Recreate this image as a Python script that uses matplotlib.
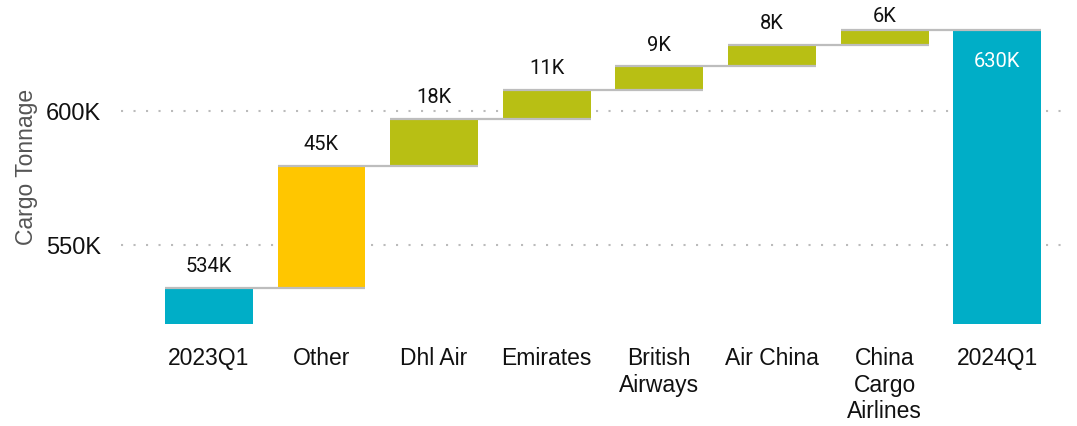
import numpy as np
import matplotlib
matplotlib.use('Agg')
import matplotlib.pyplot as plt

# data
categories = ['2023Q1', 'Other', 'Dhl Air', 'Emirates', 'British\nAirways',
              'Air China', 'China\nCargo\nAirlines', '2024Q1']
start_value = 534.0
deltas = [45.4, 17.6, 10.9, 8.6, 8.1, 5.6]

teal = '#00AEC7'
yellow = '#FFC600'
olive = '#B8BF14'
grey = '#BDBDBD'

end_value = start_value + sum(deltas)
tops = start_value + np.cumsum(deltas)
bottoms = tops - np.array(deltas)

fig = plt.figure(figsize=(10.77, 4.27), dpi=100)
ax = fig.add_axes([120.7/1077, 102/427, (1066-120.7)/1077, 317/427])

ymin, ymax = 520.4, 638.7
ax.set_ylim(ymin, ymax)
ax.set_xlim(-0.782, 7.61)

w = 0.779
x = np.arange(len(categories))

# grid
for yv in [550, 600]:
    ax.axhline(yv, color='#BBBBBB', lw=1.5, ls=(0, (1, 5)), zorder=0)

# first and last bars
ax.bar(0, start_value - ymin, bottom=ymin, width=w, color=teal, zorder=2)
ax.bar(7, end_value - ymin, bottom=ymin, width=w, color=teal, zorder=2)

# delta bars
colors = [yellow] + [olive] * (len(deltas) - 1)
ax.bar(x[1:7], deltas, bottom=bottoms, width=w, color=colors, zorder=2)

# connector lines
levels = [start_value] + list(tops)
for i, lv in enumerate(levels):
    ax.plot([i - w/2, i + 1 + w/2], [lv, lv], color=grey, lw=1.6, zorder=3,
            solid_capstyle='butt')

# data labels (kept inside the plot area at the top)
lab_font = 'Roboto'
gap = 22 / 2.68
label_cap = ymax - 9 / 2.68
ax.text(0, min(start_value + gap, label_cap), '%dK' % round(start_value),
        ha='center', va='center', fontsize=14.5, family=lab_font,
        color='#111111')
for i, d in enumerate(deltas):
    ax.text(i + 1, min(tops[i] + gap, label_cap), '%dK' % round(d),
            ha='center', va='center', fontsize=14.5, family=lab_font,
            color='#111111')
ax.text(7, end_value - 31 / 2.68, '%dK' % round(end_value),
        ha='center', va='center', fontsize=14.5, family=lab_font,
        color='white')

ax.set_yticks([550, 600])
ax.set_yticklabels(['550K', '600K'], family='Liberation Sans', fontsize=17,
                   color='#111111')
ax.set_xticks(x)
ax.set_xticklabels(categories, family='Liberation Sans', fontsize=16.5,
                   color='#111111', linespacing=1.2, va='top')
ax.tick_params(axis='both', length=0)
ax.tick_params(axis='x', pad=16)
ax.tick_params(axis='y', pad=14)

ax.set_ylabel('Cargo Tonnage', family='Liberation Sans', fontsize=16.5,
              color='#555555')
ax.yaxis.set_label_coords(-83/945, 0.5)

for s in ax.spines.values():
    s.set_visible(False)

fig.savefig('out.png', dpi=100)
